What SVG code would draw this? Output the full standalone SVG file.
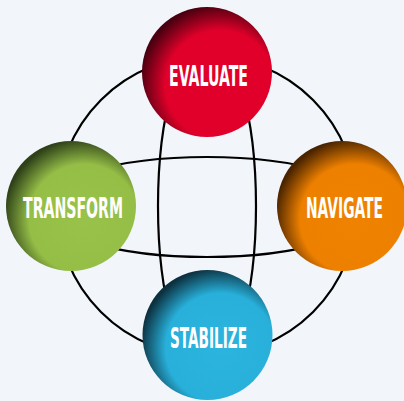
<svg xmlns="http://www.w3.org/2000/svg" width="404" height="401" viewBox="0 0 404 401">
<defs>
<radialGradient id="gRed" cx="0.6" cy="0.6" r="0.62">
<stop offset="0" stop-color="#e2002b"/><stop offset="0.68" stop-color="#e0002a"/><stop offset="1" stop-color="#4a0010"/>
</radialGradient>
<radialGradient id="gGreen" cx="0.6" cy="0.6" r="0.62">
<stop offset="0" stop-color="#98c24a"/><stop offset="0.68" stop-color="#95be47"/><stop offset="1" stop-color="#2e4118"/>
</radialGradient>
<radialGradient id="gOrange" cx="0.6" cy="0.6" r="0.62">
<stop offset="0" stop-color="#f08200"/><stop offset="0.68" stop-color="#ee8000"/><stop offset="1" stop-color="#4a2400"/>
</radialGradient>
<radialGradient id="gBlue" cx="0.6" cy="0.6" r="0.62">
<stop offset="0" stop-color="#2bb4de"/><stop offset="0.68" stop-color="#28b0da"/><stop offset="1" stop-color="#0c3140"/>
</radialGradient>
</defs>
<style>
.ln{fill:none;stroke:#000;stroke-width:2.2}
.lbl{font-family:"DejaVu Sans Condensed","DejaVu Sans","Liberation Sans",sans-serif;font-stretch:condensed;font-size:28.5px;font-weight:bold;fill:#fff;text-anchor:middle}
</style>
<rect width="404" height="401" fill="#f2f6fb"/>
<g id="connectors">
<circle class="ln" cx="207" cy="206" r="150"/>
<ellipse class="ln" cx="207" cy="207" rx="166" ry="50"/>
<ellipse class="ln" cx="207" cy="206" rx="49" ry="166"/>
</g>
<g id="evaluate">
<circle cx="207" cy="72" r="65" fill="url(#gRed)"/>
<text class="lbl" x="208.5" y="86" textLength="79" lengthAdjust="spacingAndGlyphs">EVALUATE</text>
</g>
<g id="transform">
<circle cx="71" cy="206" r="65" fill="url(#gGreen)"/>
<text class="lbl" x="73" y="218" textLength="100" lengthAdjust="spacingAndGlyphs">TRANSFORM</text>
</g>
<g id="navigate">
<circle cx="342" cy="206" r="65" fill="url(#gOrange)"/>
<text class="lbl" x="344.5" y="218" textLength="77" lengthAdjust="spacingAndGlyphs">NAVIGATE</text>
</g>
<g id="stabilize">
<circle cx="207.5" cy="335" r="65" fill="url(#gBlue)"/>
<text class="lbl" x="208.5" y="348" textLength="77" lengthAdjust="spacingAndGlyphs">STABILIZE</text>
</g>
</svg>
